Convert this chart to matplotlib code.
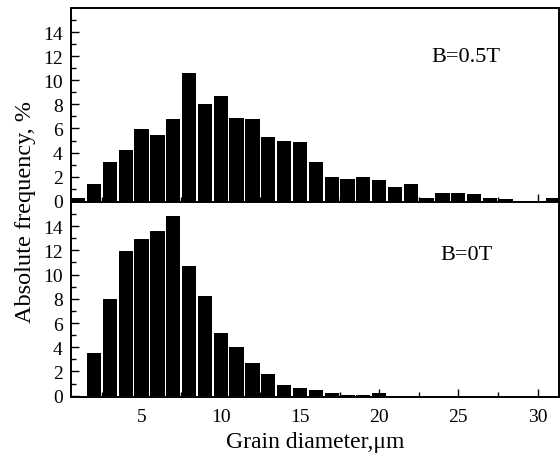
import numpy as np
import matplotlib
matplotlib.use('Agg')
import matplotlib.pyplot as plt

# bin centres (grain diameter, um)
diameters = list(range(1, 32))

# B = 0.5T histogram (%)
freq_05T = [0.2, 1.4, 3.2, 4.25, 5.95, 5.45, 6.8, 10.6, 8.0, 8.7, 6.9, 6.8, 5.3,
            5.0, 4.85, 3.2, 2.0, 1.8, 1.95, 1.7, 1.15, 1.4, 0.25, 0.6, 0.6,
            0.55, 0.2, 0.15, 0.0, 0.0, 0.25]

# B = 0T histogram (%)
freq_0T = [0.0, 3.5, 7.95, 11.95, 12.9, 13.6, 14.8, 10.7, 8.2, 5.15, 4.05, 2.7,
           1.8, 0.9, 0.67, 0.45, 0.25, 0.07, 0.07, 0.2, 0.0, 0.0, 0.0, 0.0,
           0.0, 0.0, 0.0, 0.0, 0.0, 0.0, 0.0]

panel_labels = ['B=0.5T', 'B=0T']
label_pos = [(0.81, 0.75), (0.81, 0.731)]

plt.rcParams['font.family'] = ['Liberation Serif', 'DejaVu Serif']

fig = plt.figure(figsize=(5.6, 4.6), dpi=100)
ax_top = fig.add_axes([0.127, 0.559, 0.871, 0.421])
ax_bot = fig.add_axes([0.127, 0.135, 0.871, 0.424], sharex=ax_top)

for ax, vals, lab, pos in zip([ax_top, ax_bot], [freq_05T, freq_0T],
                              panel_labels, label_pos):
    ax.bar(diameters, vals, width=0.9, color='black', edgecolor='none')
    ax.set_ylim(-0.1, 16.0)
    ax.set_yticks(np.arange(0, 15, 2))
    ax.set_yticks(np.arange(1, 16, 2), minor=True)
    ax.tick_params(axis='both', which='major', direction='in', length=5.5,
                   width=1, labelsize=14, pad=6, top=False, right=False)
    ax.tick_params(axis='both', which='minor', direction='in', length=3.5,
                   width=1, top=False, right=False)
    for s in ax.spines.values():
        s.set_linewidth(1.4)
    ax.text(pos[0], pos[1], lab, fontsize=16, ha='center', va='center',
            transform=ax.transAxes)

ax_bot.set_xlim(0.55, 31.35)
ax_bot.set_xticks([5, 10, 15, 20, 25, 30])
ax_bot.set_xticks(np.arange(2.5, 31, 2.5), minor=True)
ax_top.tick_params(axis='x', labelbottom=False)
ax_bot.tick_params(axis='x', pad=8)

ax_bot.set_xlabel('Grain diameter,μm', fontsize=17, labelpad=4)
fig.text(0.045, 0.54, 'Absolute frequency, %', rotation=90, fontsize=17.5,
         ha='center', va='center')

fig.savefig('out.png', dpi=100)
